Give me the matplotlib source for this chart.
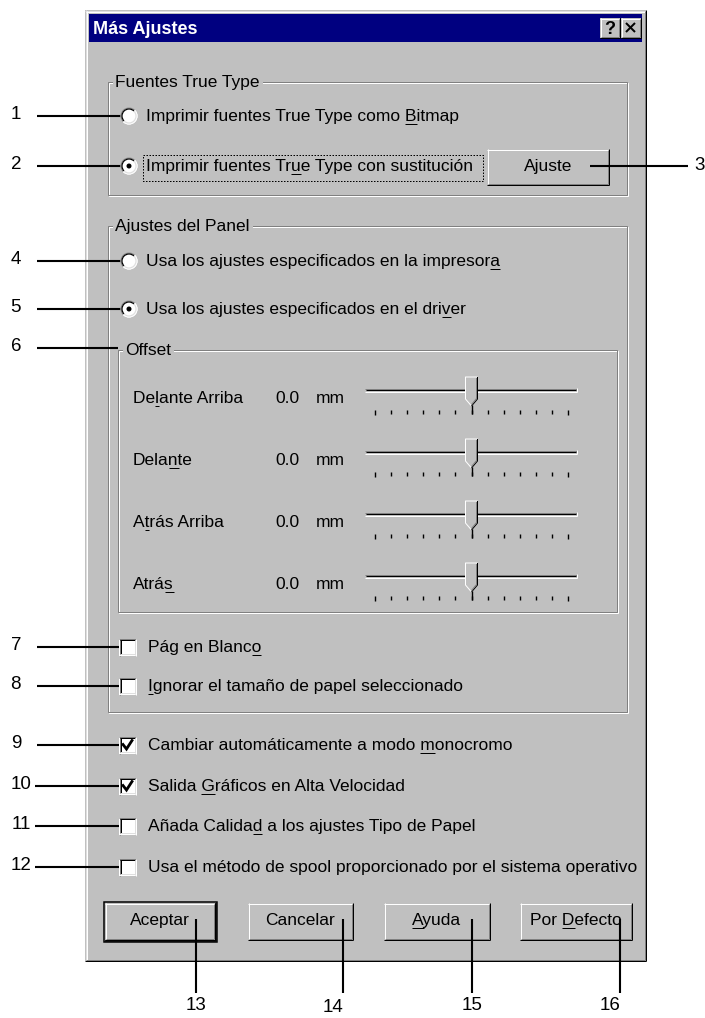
import numpy as np
import matplotlib
matplotlib.use("Agg")
import matplotlib.pyplot as plt
from matplotlib.patches import Rectangle, Circle, Arc, Polygon

# dialog content ('&' marks the underlined mnemonic letter, as in Windows)
TITLE = "Más Ajustes"
TT_GROUP = "Fuentes True Type"
TT_OPTIONS = ["Imprimir fuentes True Type como &Bitmap",
              "Imprimir fuentes Tr&ue Type con sustitución"]
TT_SELECTED = 1
TT_BUTTON = "Ajuste"
PANEL_GROUP = "Ajustes del Panel"
PANEL_OPTIONS = ["Usa los ajustes especificados en la impresor&a",
                 "Usa los ajustes especificados en el dri&ver"]
PANEL_SELECTED = 1
OFFSET_GROUP = "Offset"
OFFSET_NAMES = ["De&lante Arriba", "Dela&nte", "A&trás Arriba", "Atrá&s"]
OFFSET_VALUES = [0.0, 0.0, 0.0, 0.0]
OFFSET_UNIT = "mm"
SLIDER_TICKS = 13
SLIDER_POS = [6, 6, 6, 6]
PANEL_CHECKS = ["Pág en Blanc&o", "&Ignorar el tamaño de papel seleccionado"]
PANEL_CHECKED = [False, False]
MORE_CHECKS = ["Cambiar automáticamente a modo &monocromo",
               "Salida &Gráficos en Alta Velocidad",
               "Añada Calida&d a los ajustes Tipo de Papel",
               "Usa el método de spool proporcionado por el sistema operativo"]
MORE_CHECKED = [True, True, False, False]
BUTTONS = ["Aceptar", "Cancelar", "&Ayuda", "Por &Defecto"]
CALLOUTS = [str(i) for i in range(1, 17)]

W, H = 705, 1018
FACE = "#c0c0c0"
LIGHT = "#dfdfdf"
SHADOW = "#808080"
HILITE = "#ffffff"
DARK = "#000000"
TITLE_BG = "#000080"
FONT = "Liberation Sans"
FS = 12.5
PX = 0.72  # one pixel in points at 100 dpi

fig = plt.figure(figsize=(W / 100, H / 100), dpi=100)
fig.patch.set_facecolor("white")
ax = fig.add_axes([0, 0, 1, 1])
ax.set_xlim(0, W)
ax.set_ylim(H, 0)
ax.axis("off")
R = fig.canvas.get_renderer()


def line(xs, ys, c=DARK, lw=1, z=2, **kw):
    ax.plot(xs, ys, color=c, lw=lw * PX, solid_capstyle="butt", zorder=z, **kw)


def text_w(s, size=FS, weight="normal"):
    t = ax.text(0, 0, s, fontsize=size, family=FONT, weight=weight)
    w = t.get_window_extent(R).width
    t.remove()
    return w


def label(x, cy, s, size=FS, ha="left", color=DARK, weight="normal"):
    # cy is the visual middle of the text row
    i = s.find("&")
    plain = s.replace("&", "")
    base = cy + 5
    t = ax.text(x, base, plain, fontsize=size, family=FONT, ha=ha,
                va="baseline", color=color, weight=weight, zorder=5)
    if i >= 0:
        bb = t.get_window_extent(R)
        x1 = bb.x0 + text_w(plain[:i + 1], size)
        x0 = x1 - text_w(plain[i], size)
        line([x0, x1], [base + 2.5, base + 2.5], color, z=5)
    return t


def raised(x0, y0, x1, y1, default=False):
    ax.add_patch(Rectangle((x0, y0), x1 - x0, y1 - y0, fc=FACE, ec="none", zorder=1))
    line([x0, x1], [y0 + 0.5] * 2, HILITE)
    line([x0 + 0.5] * 2, [y0, y1], HILITE)
    line([x0, x1], [y1 - 0.5] * 2, DARK)
    line([x1 - 0.5] * 2, [y0, y1], DARK)
    line([x0 + 1, x1 - 1], [y1 - 1.5] * 2, SHADOW)
    line([x1 - 1.5] * 2, [y0 + 1, y1 - 1], SHADOW)
    if default:
        ax.add_patch(Rectangle((x0 - 1.5, y0 - 1.5), x1 - x0 + 3, y1 - y0 + 3,
                               fill=False, ec=DARK, lw=1.5 * PX, zorder=3))
        line([x0, x1 + 1], [y1 + 1] * 2, DARK, lw=1.5, z=3)
        line([x1 + 1] * 2, [y0, y1 + 1], DARK, lw=1.5, z=3)


def sunken(x0, y0, x1, y1, fc=HILITE):
    ax.add_patch(Rectangle((x0, y0), x1 - x0, y1 - y0, fc=fc, ec="none", zorder=3))
    line([x0, x1], [y0 + 0.5] * 2, SHADOW, z=3.1)
    line([x0 + 0.5] * 2, [y0, y1], SHADOW, z=3.1)
    line([x0 + 1, x1 - 1], [y0 + 1.5] * 2, DARK, z=3.1)
    line([x0 + 1.5] * 2, [y0 + 1, y1 - 1], DARK, z=3.1)
    line([x0, x1], [y1 - 0.5] * 2, HILITE, z=3.1)
    line([x1 - 0.5] * 2, [y0, y1], HILITE, z=3.1)
    line([x0 + 1, x1 - 1], [y1 - 1.5] * 2, LIGHT, z=3.1)
    line([x1 - 1.5] * 2, [y0 + 1, y1 - 1], LIGHT, z=3.1)


def group(x0, y0, x1, y1, title):
    ax.add_patch(Rectangle((x0 + 0.5, y0 + 0.5), x1 - x0, y1 - y0, fill=False,
                           ec=HILITE, lw=PX, zorder=1.2))
    ax.add_patch(Rectangle((x0 - 0.5, y0 - 0.5), x1 - x0, y1 - y0, fill=False,
                           ec=SHADOW, lw=PX, zorder=1.3))
    w = text_w(title)
    ax.add_patch(Rectangle((x0 + 5, y0 - 4), w + 5, 8, fc=FACE, ec="none", zorder=1.5))
    label(x0 + 7, y0, title)


def radio(cx, cy, on):
    r = 8.5
    ax.add_patch(Circle((cx, cy), r, fc=HILITE, ec="none", zorder=3))
    ax.add_patch(Arc((cx, cy), 2 * r - 1, 2 * r - 1, theta1=135, theta2=315, ec=SHADOW, lw=1.2 * PX, zorder=3.1))
    ax.add_patch(Arc((cx, cy), 2 * r - 3, 2 * r - 3, theta1=135, theta2=315, ec=DARK, lw=1.2 * PX, zorder=3.1))
    ax.add_patch(Arc((cx, cy), 2 * r - 1, 2 * r - 1, theta1=-45, theta2=135, ec=HILITE, lw=1.2 * PX, zorder=3.1))
    ax.add_patch(Arc((cx, cy), 2 * r - 3, 2 * r - 3, theta1=-45, theta2=135, ec=LIGHT, lw=1.2 * PX, zorder=3.1))
    if on:
        ax.add_patch(Circle((cx, cy), 2.5, fc=DARK, ec="none", zorder=3.2))


def checkbox(x0, cy, on):
    s = 17
    sunken(x0, cy - s / 2, x0 + s, cy + s / 2)
    if on:
        ax.plot([x0 + 4, x0 + 7.5, x0 + 13], [cy - 0.5, cy + 4, cy - 4.5],
                color=DARK, lw=2.8 * PX, solid_joinstyle="miter", zorder=3.3)


def slider(x0, x1, ty, nticks, pos):
    line([x0, x1], [ty - 1.5] * 2, SHADOW)
    line([x0 + 1, x1 - 1], [ty - 0.5] * 2, DARK)
    line([x0, x1], [ty + 1.5] * 2, HILITE)
    line([x1 - 0.5] * 2, [ty - 2, ty + 2], HILITE)
    tx = np.linspace(x0 + 10, x1 - 9, nticks)
    for k, x in enumerate(tx):
        ln = 5 if k in (0, nticks - 1) else 3.5
        line([x, x], [ty + 20, ty + 20 + ln], DARK, lw=1.4)
    cx = tx[pos]
    line([cx, cx], [ty + 15, ty + 24], DARK, lw=1.4)
    pts = [(cx - 6, ty - 13), (cx + 6, ty - 13), (cx + 6, ty + 9), (cx, ty + 16), (cx - 6, ty + 9)]
    ax.add_patch(Polygon(pts, closed=True, fc=FACE, ec="none", zorder=3))
    line([cx + 6, cx - 6, cx - 6, cx], [ty - 13, ty - 13, ty + 9, ty + 16], HILITE, z=3.1)
    line([cx + 6, cx + 6, cx], [ty - 13, ty + 9, ty + 16], DARK, z=3.1)
    line([cx + 5, cx + 5, cx], [ty - 12, ty + 8.5, ty + 14.5], SHADOW, z=3.1)


# window frame
ax.add_patch(Rectangle((85, 10), 561, 951, fc=FACE, ec="none", zorder=0.5))
line([85, 646], [10.5] * 2, LIGHT)
line([85.5] * 2, [10, 961], LIGHT)
line([86, 645], [11.5] * 2, HILITE)
line([86.5] * 2, [11, 960], HILITE)
line([85, 646], [960.5] * 2, DARK)
line([645.5] * 2, [10, 961], DARK)
line([86, 645], [959.5] * 2, SHADOW)
line([644.5] * 2, [11, 960], SHADOW)

# title bar
ax.add_patch(Rectangle((89, 14), 553, 28, fc=TITLE_BG, ec="none", zorder=1))
ax.text(93, 34, TITLE, fontsize=13, family=FONT, weight="bold", color="white",
        va="baseline", zorder=5)
raised(600, 18, 620, 38)
ax.text(610, 34, "?", fontsize=13, family=FONT, weight="bold", ha="center", va="baseline", zorder=5)
raised(621, 18, 641, 38)
line([626, 635], [23, 32], DARK, lw=2, z=5)
line([626, 635], [32, 23], DARK, lw=2, z=5)

# Fuentes True Type
group(108, 82, 627, 195, TT_GROUP)
for k, (s, cy) in enumerate(zip(TT_OPTIONS, [116, 166])):
    radio(129, cy, k == TT_SELECTED)
    label(146, cy, s)
ax.add_patch(Rectangle((142.5, 154.5), 340, 26, fill=False, ec=DARK, lw=PX,
                       ls=(0, (1.5, 1.5)), zorder=4))
raised(487, 149, 609, 185)
label(548, 166, TT_BUTTON, ha="center")

# Ajustes del Panel
group(108, 226, 627, 712, PANEL_GROUP)
for k, (s, cy) in enumerate(zip(PANEL_OPTIONS, [261, 309])):
    radio(129, cy, k == PANEL_SELECTED)
    label(146, cy, s)

group(118, 350, 617, 612, OFFSET_GROUP)
for name, val, pos, cy in zip(OFFSET_NAMES, OFFSET_VALUES, SLIDER_POS, [398, 460, 522, 584]):
    label(133, cy, name)
    label(275, cy, f"{val:.1f}")
    label(316, cy, OFFSET_UNIT)
    slider(365, 577, cy - 8, SLIDER_TICKS, pos)

for s, on, cy in zip(PANEL_CHECKS, PANEL_CHECKED, [647, 686]):
    checkbox(119, cy, on)
    label(148, cy, s)

for s, on, cy in zip(MORE_CHECKS, MORE_CHECKED, [745, 786, 826, 867]):
    checkbox(119, cy, on)
    label(148, cy, s)

# bottom buttons
for k, (s, (x0, x1)) in enumerate(zip(BUTTONS, [(105, 215), (248, 353), (384, 490), (520, 632)])):
    raised(x0, 903, x1, 940, default=(k == 0))
    label((x0 + x1) / 2, 920, s, ha="center")

# numbered callouts
CLW = 2.1
left = [(116, 121), (166, 121), None, (261, 121), (309, 121), (348, 118),
        (647, 121), (686, 121), (745, 121), (786, 121), (826, 121), (867, 121)]
for num, spec in zip(CALLOUTS[:12], left):
    if spec is None:
        continue
    y, xe = spec
    xs = 37 if len(num) == 1 else 35
    line([xs, xe], [y, y], DARK, lw=CLW, z=2.5)
    ax.text(21 if len(num) == 1 else 31, y - 1.5, num, fontsize=13.5, family=FONT,
            ha="right", va="center", zorder=6)

line([590, 688], [166, 166], DARK, lw=CLW, z=6)
ax.text(700, 165, CALLOUTS[2], fontsize=13.5, family=FONT, ha="center", va="center", zorder=6)

for num, x, lx, ly in zip(CALLOUTS[12:], [196, 343, 472, 620], [196, 333, 472, 610], [1005, 1008, 1005, 1005]):
    line([x, x], [919, 993], DARK, lw=CLW, z=6)
    ax.text(lx, ly, num, fontsize=13.5, family=FONT, ha="center", va="center", zorder=6)

fig.savefig("out.png", dpi=100, facecolor="white")
